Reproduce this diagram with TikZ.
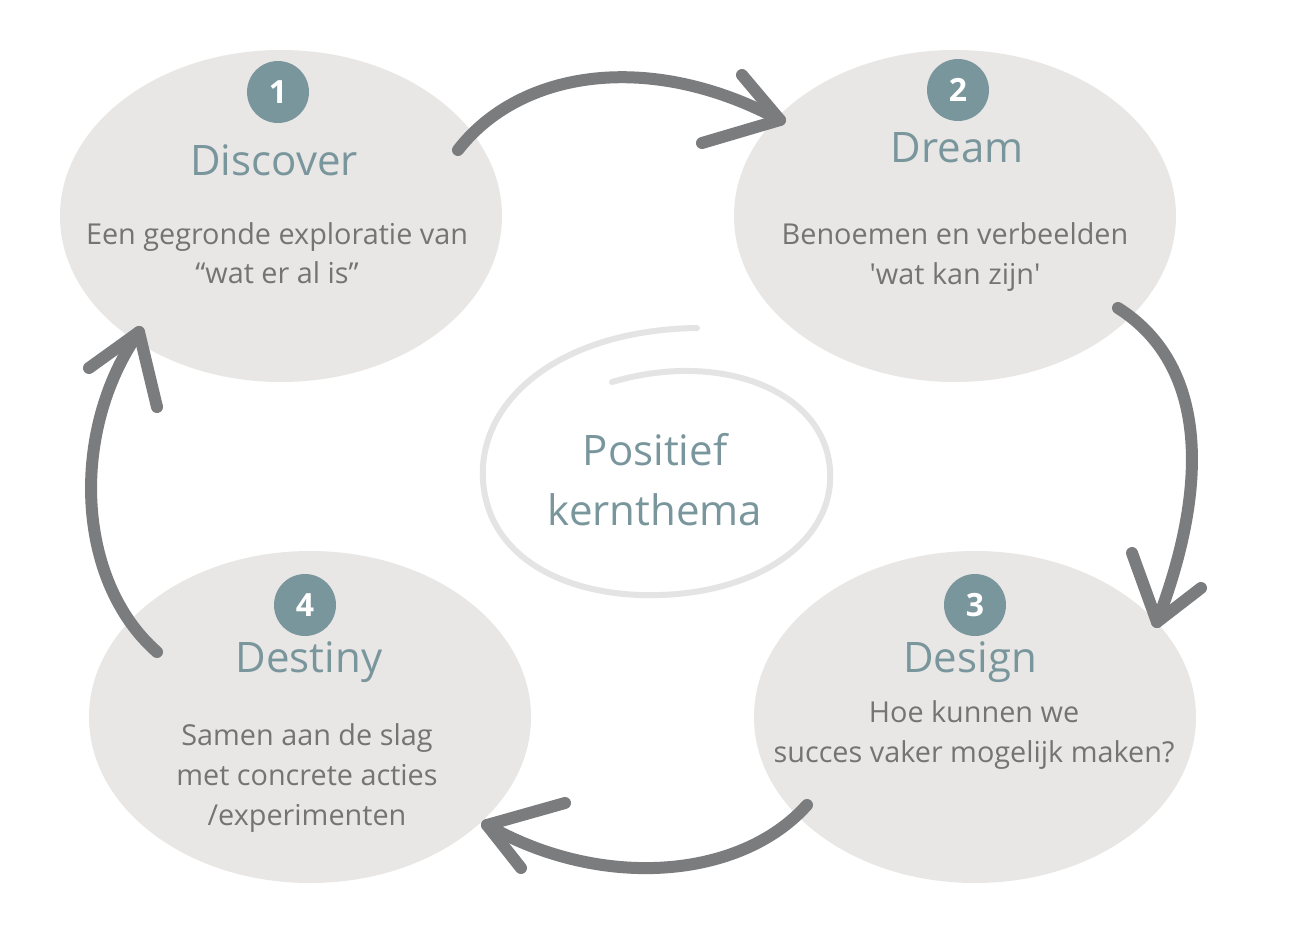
\documentclass[tikz,border=0pt]{standalone}
\usepackage{fontspec}
\setmainfont{Open Sans}
\newfontfamily\rechtfont[Ligatures=ResetAll]{Open Sans}
\usetikzlibrary{shapes.geometric}
\definecolor{blobgray}{HTML}{E8E7E5}
\definecolor{arrowgray}{HTML}{7B7C7E}
\definecolor{tealgray}{HTML}{7A969D}
\definecolor{bodygray}{HTML}{747474}
\definecolor{swirlgray}{HTML}{E4E4E4}
\begin{document}
\begin{tikzpicture}[x=0.5pt,y=-0.5pt,line cap=round,line join=round,
  blob/.style={ellipse,fill=blobgray,inner sep=0pt,minimum width=221pt,minimum height=166pt},
  badge/.style={circle,fill=tealgray,text=white,inner sep=0pt,minimum size=31pt,font=\fontsize{16}{16}\selectfont\bfseries},
  phase/.style={text=tealgray,inner sep=0pt,font=\fontsize{21}{22}\selectfont},
  body/.style={text=bodygray,inner sep=0pt,align=center,font=\fontsize{14.4}{19.8}\selectfont},
  pijl/.style={draw=arrowgray,line width=6pt}]
  \fill[white] (0,0) rectangle (1296,932);
  \useasboundingbox (0,0) rectangle (1296,932);
  % the four phases
  \node[blob] (disc) at (281,216) {};
  \node[blob] (drm) at (955,216) {};
  \node[blob] (dsg) at (975,717) {};
  \node[blob] (dst) at (310,717) {};
  \node[badge] (n1) at (278,92) {1};
  \node[badge] (n2) at (958,90) {2};
  \node[badge] (n3) at (975,605) {3};
  \node[badge] (n4) at (305,605) {4};
  \node[phase] (t1) at (274,160) {Discover};
  \node[phase] (t2) at (957,148) {Dream};
  \node[phase] (t3) at (970,662) {Design};
  \node[phase] (t4) at (309,662) {Destiny};
  \node[body] (b1) at (277,253) {Een gegronde exploratie van\\“wat er al is”};
  \node[body] (b2) at (955,257) {Benoemen en verbeelden\\{\rechtfont'}wat kan zijn{\rechtfont'}};
  \node[body] (b3) at (974,735) {Hoe kunnen we\\succes vaker mogelijk maken?};
  \node[body] (b4) at (307,778) {Samen aan de slag\\met concrete acties\\/experimenten};
  % centre
  \draw[swirlgray,line width=3pt] (697,328) .. controls (560,330) and (478,400) .. (483,480)
    .. controls (488,560) and (570,598) .. (660,595) .. controls (760,592) and (835,540) .. (830,470)
    .. controls (825,390) and (720,350) .. (612,382);
  \node[text=tealgray,align=center,inner sep=0pt,font=\fontsize{21}{30}\selectfont] (kern) at (655,480) {Positief\\kernthema};
  % arrows
  \coordinate (a1s) at (458,150);  \coordinate (a1t) at (780,120);
  \coordinate (a2s) at (1118,308); \coordinate (a2t) at (1157,622);
  \coordinate (a3s) at (807,805);  \coordinate (a3t) at (487,825);
  \coordinate (a4s) at (157,652);  \coordinate (a4t) at (139,332);
  \draw[pijl] (a1s) .. controls (520,70) and (650,50) .. (a1t);
  \draw[pijl] (742,75) -- (a1t) -- (702,143);
  \draw[pijl] (a2s) .. controls (1200,360) and (1215,470) .. (a2t);
  \draw[pijl] (1132,553) -- (a2t) -- (1201,588);
  \draw[pijl] (a3s) .. controls (740,880) and (600,890) .. (a3t);
  \draw[pijl] (565,803) -- (a3t) -- (521,868);
  \draw[pijl] (a4s) .. controls (75,580) and (70,430) .. (a4t);
  \draw[pijl] (89,368) -- (a4t) -- (157,407);
\end{tikzpicture}
\end{document}
